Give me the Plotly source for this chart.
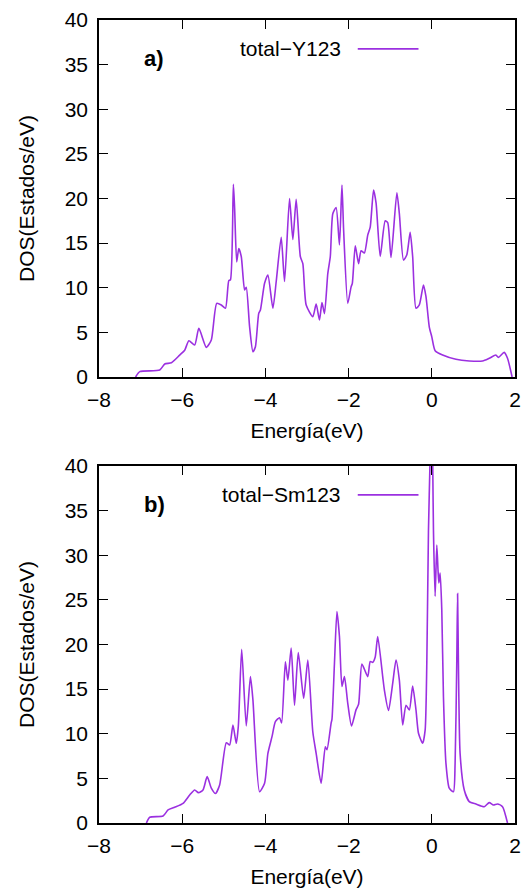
import plotly.graph_objects as go

# Panel a) total DOS of Y123
energy_y123 = [-7.12, -7.02, -6.54, -6.42, -6.26, -6.06, -5.94, -5.84, -5.70, -5.60,
               -5.42, -5.30, -5.17, -5.06, -4.96, -4.88, -4.84, -4.77, -4.74, -4.69,
               -4.64, -4.58, -4.50, -4.46, -4.38, -4.30, -4.24, -4.16, -4.12, -4.02,
               -3.94, -3.82, -3.74, -3.62, -3.54, -3.42, -3.34, -3.26, -3.16, -3.10,
               -3.02, -2.86, -2.78, -2.70, -2.64, -2.58, -2.50, -2.44, -2.38, -2.30,
               -2.22, -2.16, -2.12, -2.02, -1.94, -1.91, -1.84, -1.76, -1.70, -1.62,
               -1.54, -1.48, -1.40, -1.34, -1.24, -1.12, -1.06, -0.98, -0.84, -0.78,
               -0.68, -0.60, -0.52, -0.46, -0.38, -0.30, -0.20, -0.14, -0.06, 0.00,
               0.08, 0.26, 0.58, 0.90, 1.22, 1.38, 1.54, 1.60, 1.74, 1.82, 1.93]
dos_y123 = [0, 0.6, 0.78, 1.46, 1.6, 2.46, 3.0, 4.07, 3.59, 5.45,
            3.32, 4.15, 8.25, 8.07, 7.7, 10.8, 10.9, 21.6, 18.9, 12.9,
            14.4, 13.5, 9.75, 10.05, 5.64, 2.84, 3.4, 7.13, 7.5, 10.5,
            11.43, 7.7, 10.7, 15.65, 10.7, 20.0, 15.4, 19.9, 13.5, 12.7,
            8.07, 6.76, 8.18, 6.4, 8.33, 7.1, 11.6, 13.5, 18.3, 19.0,
            14.8, 21.5, 16.5, 8.25, 10.1, 10.5, 14.7, 12.7, 14.15, 13.9,
            15.9, 16.8, 20.95, 19.5, 13.5, 17.5, 17.3, 13.4, 20.65, 18.3,
            13.1, 13.7, 16.2, 13.5, 7.7, 8.07, 10.3, 9.0, 5.6, 4.5,
            2.95, 2.46, 1.98, 1.8, 1.8, 2.1, 2.46, 2.2, 2.76, 2.1, 0]

# Panel b) total DOS of Sm123
energy_sm123 = [-6.86, -6.78, -6.46, -6.34, -6.18, -5.98, -5.82, -5.70, -5.61, -5.50,
                -5.40, -5.30, -5.20, -5.10, -4.94, -4.86, -4.78, -4.70, -4.65, -4.57,
                -4.46, -4.36, -4.30, -4.14, -4.02, -3.94, -3.84, -3.76, -3.66, -3.61,
                -3.52, -3.46, -3.38, -3.30, -3.21, -3.08, -2.98, -2.86, -2.78, -2.66,
                -2.56, -2.52, -2.42, -2.40, -2.34, -2.28, -2.22, -2.16, -2.10, -2.02,
                -1.93, -1.82, -1.76, -1.68, -1.54, -1.48, -1.42, -1.36, -1.30, -1.18,
                -1.14, -1.04, -0.94, -0.86, -0.78, -0.70, -0.62, -0.54, -0.46, -0.38,
                -0.32, -0.22, -0.16, -0.12, -0.08, -0.04, -0.015, 0.005, 0.025, 0.04,
                0.08, 0.12, 0.15, 0.17, 0.20, 0.24, 0.28, 0.34, 0.42, 0.52,
                0.56, 0.60, 0.62, 0.64, 0.68, 0.78, 0.90, 1.06, 1.26, 1.38,
                1.48, 1.58, 1.70, 1.82]
dos_sm123 = [0, 0.64, 0.78, 1.46, 1.76, 2.2, 3.14, 3.7, 3.4, 3.7,
             5.2, 3.9, 3.3, 4.26, 9.0, 8.74, 10.98, 8.93, 10.9, 19.46,
             10.87, 16.4, 13.8, 3.5, 4.45, 7.8, 9.7, 11.35, 11.8, 11.2,
             18.07, 16.0, 19.6, 13.2, 19.1, 13.97, 18.26, 10.2, 7.8, 4.45,
             8.55, 8.2, 11.2, 11.6, 17.9, 23.7, 20.9, 15.3, 16.4, 13.4,
             10.87, 12.7, 13.3, 17.8, 16.4, 18.1, 18.0, 18.6, 20.9, 16.4,
             14.9, 12.6, 15.65, 18.26, 16.0, 10.98, 13.2, 12.66, 15.35, 12.66,
             10.05, 8.93, 10.4, 17.9, 32.8, 41.0, 46.0, 45.0, 39.0, 32.8,
             25.4, 31.15, 28.3, 26.9, 28.0, 23.9, 14.15, 6.7, 3.9, 3.5,
             6.7, 17.9, 25.7, 17.9, 7.8, 3.7, 2.4, 2.13, 1.83, 2.28,
             2.02, 2.13, 1.83, 0]

series_names = ["total\u2212Y123", "total\u2212Sm123"]
panel_labels = ["a)", "b)"]
x_title = "Energía(eV)"
y_title = "DOS(Estados/eV)"

LINE_COLOR = "#9b30e0"
FONT = "Liberation Sans, Arial, Helvetica, sans-serif"
FS = 21

fig = go.Figure()
fig.add_trace(go.Scatter(x=energy_y123, y=dos_y123, mode="lines", name=series_names[0],
                         line=dict(color=LINE_COLOR, width=1.6, shape="spline", smoothing=0.6),
                         xaxis="x", yaxis="y", showlegend=False))
fig.add_trace(go.Scatter(x=energy_sm123, y=dos_sm123, mode="lines", name=series_names[1],
                         line=dict(color=LINE_COLOR, width=1.6, shape="spline", smoothing=0.6),
                         xaxis="x2", yaxis="y2", showlegend=False))

axis_common = dict(showline=True, linecolor="black", linewidth=1.5, mirror="ticks",
                   ticks="inside", ticklen=9, tickwidth=1, tickcolor="black",
                   showgrid=False, zeroline=False, automargin=False,
                   tickfont=dict(family=FONT, size=FS, color="black"))

xa = dict(axis_common, range=[-8, 2], dtick=2, tick0=-8, ticklabelstandoff=3,
          title=dict(text=x_title, font=dict(family=FONT, size=FS, color="black"), standoff=13))
ya = dict(axis_common, range=[0, 40], dtick=5, tick0=0, ticklabelstandoff=5,
          title=dict(text=y_title, font=dict(family=FONT, size=FS, color="black"), standoff=24))

top_dom = [0.5554, 1.0]
bot_dom = [0.0, 0.4446]

fig.update_layout(
    width=523, height=888,
    margin=dict(l=99, r=8, t=20, b=65, autoexpand=False),
    paper_bgcolor="white", plot_bgcolor="white",
    xaxis=dict(xa, anchor="y", domain=[0, 1]),
    yaxis=dict(ya, anchor="x", domain=top_dom),
    xaxis2=dict(xa, anchor="y2", domain=[0, 1]),
    yaxis2=dict(ya, anchor="x2", domain=bot_dom),
    showlegend=False,
)

for i, (xr, yr) in enumerate([("x domain", "y domain"), ("x2 domain", "y2 domain")]):
    fig.add_annotation(xref=xr, yref=yr, x=0.5865, y=0.919, text=series_names[i],
                       showarrow=False, xanchor="right", yanchor="middle",
                       font=dict(family=FONT, size=FS, color="black"))
    fig.add_shape(type="line", xref=xr, yref=yr, x0=0.622, x1=0.768, y0=0.919, y1=0.919,
                  line=dict(color=LINE_COLOR, width=1.6))
    fig.add_annotation(xref=xr, yref=yr, x=0.133, y=0.892, text="<b>%s</b>" % panel_labels[i],
                       showarrow=False, xanchor="center", yanchor="middle",
                       font=dict(family=FONT, size=22, color="black"))

# remove the browser's default 8 px body margin so the figure fills the window exactly
fig.write_html("out.html", config={"displayModeBar": False},
               post_script="document.body.style.margin='0';document.body.style.overflow='hidden';")
